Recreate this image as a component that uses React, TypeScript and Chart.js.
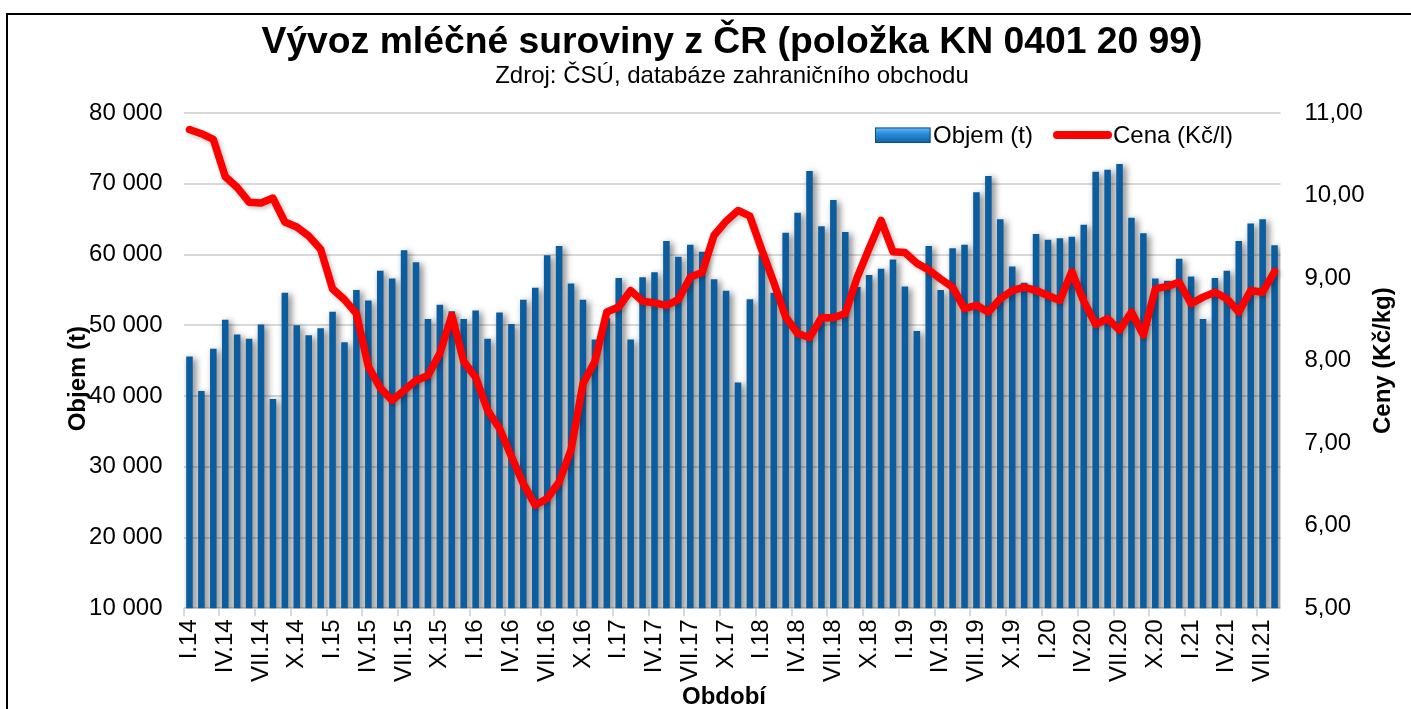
import React, { useEffect, useRef } from 'react';
import { Chart, registerables } from 'chart.js';

Chart.register(...registerables);

const FONT = '"Liberation Sans", Arial, Helvetica, sans-serif';

const TITLE = 'Vývoz mléčné suroviny z ČR (položka KN 0401 20 99)';
const SUBTITLE = 'Zdroj: ČSÚ, databáze zahraničního obchodu';
const Y_LEFT_TITLE = 'Objem (t)';
const Y_RIGHT_TITLE = 'Ceny (Kč/kg)';
const X_TITLE = 'Období';
const VOLUME_LABEL = 'Objem (t)';
const PRICE_LABEL = 'Cena (Kč/l)';

// Month labels: I.14 ... VIII.21
const ROMAN_MONTHS = ['I', 'II', 'III', 'IV', 'V', 'VI', 'VII', 'VIII', 'IX', 'X', 'XI', 'XII'];
const YEARS = ['14', '15', '16', '17', '18', '19', '20', '21'];
const MONTH_COUNT = 92;
const categories: string[] = [];
for (let i = 0; i < MONTH_COUNT; i++) {
  categories.push(`${ROMAN_MONTHS[i % 12]}.${YEARS[Math.floor(i / 12)]}`);
}

// Export volume (t)
const volume2014 = [45600, 40700, 46700, 50800, 48700, 48100, 50100, 39600, 54600, 50000, 48600, 49600];
const volume2015 = [51900, 47600, 55000, 53500, 57700, 56600, 60600, 58900, 50900, 52900, 52000, 50900];
const volume2016 = [52100, 48100, 51800, 50200, 53600, 55300, 59900, 61200, 55900, 53600, 48000, 51000];
const volume2017 = [56700, 48000, 56800, 57500, 61900, 59700, 61400, 60400, 56500, 54900, 41900, 53700];
const volume2018 = [60000, 54600, 63100, 65900, 71800, 64000, 67700, 63200, 55400, 57100, 58000, 59300];
const volume2019 = [55500, 49200, 61200, 55000, 60900, 61400, 68800, 71100, 65000, 58300, 56000, 62900];
const volume2020 = [62100, 62300, 62500, 64200, 71700, 72000, 72800, 65200, 63000, 56600, 56300, 59400];
const volume2021 = [56900, 50900, 56700, 57700, 61900, 64400, 65000, 61300];
const volume = [
  ...volume2014, ...volume2015, ...volume2016, ...volume2017,
  ...volume2018, ...volume2019, ...volume2020, ...volume2021,
];

// Price (Kč/l)
const price2014 = [10.8, 10.75, 10.68, 10.23, 10.1, 9.92, 9.91, 9.97, 9.68, 9.62, 9.51, 9.35];
const price2015 = [8.87, 8.74, 8.57, 7.93, 7.67, 7.52, 7.64, 7.76, 7.82, 8.09, 8.55, 7.99];
const price2016 = [7.8, 7.4, 7.18, 6.84, 6.51, 6.25, 6.33, 6.53, 6.92, 7.72, 7.99, 8.59];
const price2017 = [8.65, 8.85, 8.72, 8.7, 8.67, 8.74, 9.01, 9.07, 9.52, 9.69, 9.82, 9.75];
const price2018 = [9.34, 8.95, 8.53, 8.33, 8.28, 8.52, 8.52, 8.57, 9.01, 9.36, 9.7, 9.32];
const price2019 = [9.31, 9.18, 9.1, 8.99, 8.89, 8.63, 8.67, 8.59, 8.75, 8.85, 8.89, 8.85];
const price2020 = [8.79, 8.73, 9.08, 8.72, 8.44, 8.51, 8.37, 8.59, 8.31, 8.87, 8.9, 8.95];
const price2021 = [8.69, 8.77, 8.83, 8.75, 8.59, 8.85, 8.83, 9.08];
const price = [
  ...price2014, ...price2015, ...price2016, ...price2017,
  ...price2018, ...price2019, ...price2020, ...price2021,
];

const VOLUME_MIN = 10000;
const VOLUME_MAX = 80000;
const VOLUME_STEP = 10000;
const PRICE_MIN = 5;
const PRICE_MAX = 11;
const PRICE_STEP = 1;

const fmtThousands = (v: number) => String(Math.round(v)).replace(/\B(?=(\d{3})+(?!\d))/g, ' ');
const fmtPrice = (v: number) => Number(v).toFixed(2).replace('.', ',');

const decorPlugin = {
  id: 'decor',
  beforeDatasetDraw(chart: any, args: any) {
    const ctx = chart.ctx;
    ctx.save();
    if (args.meta.type === 'bar') {
      ctx.shadowColor = 'rgba(0,0,0,0.55)';
      ctx.shadowBlur = 7;
      ctx.shadowOffsetX = 3;
      ctx.shadowOffsetY = 2;
    } else {
      ctx.shadowColor = 'rgba(0,0,0,0.25)';
      ctx.shadowBlur = 4;
      ctx.shadowOffsetX = 2;
      ctx.shadowOffsetY = 2;
    }
  },
  afterDatasetDraw(chart: any) {
    chart.ctx.restore();
  },
  afterDraw(chart: any) {
    const { ctx, chartArea } = chart;
    const cy = (chartArea.top + chartArea.bottom) / 2;
    ctx.save();
    ctx.fillStyle = '#000';
    ctx.font = `bold 24px ${FONT}`;
    ctx.textAlign = 'center';
    ctx.textBaseline = 'middle';
    // left axis title
    ctx.save();
    ctx.translate(78, cy + 18);
    ctx.rotate(-Math.PI / 2);
    ctx.fillText(Y_LEFT_TITLE, 0, 0);
    ctx.restore();
    // right axis title
    ctx.save();
    ctx.translate(1383, cy);
    ctx.rotate(-Math.PI / 2);
    ctx.fillText(Y_RIGHT_TITLE, 0, 0);
    ctx.restore();
    // x axis title
    ctx.fillText(X_TITLE, 724, 697);

    // legend
    const lx = 875;
    const ly = 127.5;
    const lw = 55.5;
    const lh = 15.5;
    const g = ctx.createLinearGradient(0, ly, 0, ly + lh);
    g.addColorStop(0, '#6FC0F5');
    g.addColorStop(0.35, '#2F92DE');
    g.addColorStop(1, '#0F5FA3');
    ctx.fillStyle = g;
    ctx.fillRect(lx, ly, lw, lh);
    ctx.strokeStyle = '#0B4E87';
    ctx.lineWidth = 1;
    ctx.strokeRect(lx + 0.5, ly + 0.5, lw - 1, lh - 1);

    ctx.fillStyle = '#000';
    ctx.font = `24px ${FONT}`;
    ctx.textAlign = 'left';
    ctx.fillText(VOLUME_LABEL, 933, ly + lh / 2 + 1);

    ctx.strokeStyle = '#FF0000';
    ctx.lineWidth = 8;
    ctx.lineCap = 'round';
    ctx.beginPath();
    ctx.moveTo(1057, 135);
    ctx.lineTo(1108, 135);
    ctx.stroke();
    ctx.fillText(PRICE_LABEL, 1113, ly + lh / 2 + 1);
    ctx.restore();
  },
};

export default function App() {
  const ref = useRef<HTMLCanvasElement | null>(null);

  useEffect(() => {
    if (!ref.current) return;
    const chart = new Chart(ref.current, {
      type: 'bar',
      data: {
        labels: categories,
        datasets: [
          {
            type: 'line',
            label: PRICE_LABEL,
            data: price,
            yAxisID: 'yPrice',
            borderColor: '#FF0000',
            backgroundColor: '#FF0000',
            borderWidth: 7.5,
            pointRadius: 0,
            tension: 0,
            borderJoinStyle: 'round',
            borderCapStyle: 'round',
            fill: false,
            order: 0,
          } as any,
          {
            type: 'bar',
            label: VOLUME_LABEL,
            data: volume,
            yAxisID: 'yVol',
            backgroundColor: '#0B5D9F',
            barPercentage: 0.55,
            categoryPercentage: 1,
            order: 1,
          } as any,
        ],
      },
      options: {
        responsive: false,
        animation: false,
        layout: { padding: 0 },
        plugins: {
          legend: { display: false },
          tooltip: { enabled: false },
          title: {
            display: true,
            text: TITLE,
            fullSize: false,
            color: '#000',
            font: { family: FONT, size: 37.3, weight: 'bold', lineHeight: 1.2 },
            padding: { top: 20, bottom: -3 },
          },
          subtitle: {
            display: true,
            text: SUBTITLE,
            fullSize: false,
            color: '#000',
            font: { family: FONT, size: 24, lineHeight: 1.2 },
            padding: { top: 0, bottom: 22.5 },
          },
        },
        scales: {
          x: {
            type: 'category',
            offset: true,
            grid: {
              offset: true,
              drawOnChartArea: false,
              drawTicks: true,
              tickLength: 8,
              lineWidth: 2,
              color: (c: any) => (c.index % 3 === 0 ? '#d9d9d9' : 'rgba(0,0,0,0)'),
            },
            border: { display: false },
            ticks: {
              autoSkip: false,
              maxRotation: 90,
              minRotation: 90,
              padding: 3,
              color: '#000',
              font: { family: FONT, size: 24 },
              callback: (_v: any, i: number) => (i % 3 === 0 ? categories[i] : ''),
            },
            afterFit: (s: any) => {
              s.height = 709 - 608.3;
            },
          },
          yVol: {
            type: 'linear',
            position: 'left',
            min: VOLUME_MIN,
            max: VOLUME_MAX,
            ticks: {
              stepSize: VOLUME_STEP,
              padding: 21,
              color: '#000',
              font: { family: FONT, size: 24 },
              callback: (v: any) => fmtThousands(Number(v)),
            },
            grid: { color: '#d9d9d9', lineWidth: 2, drawTicks: false },
            border: { display: false },
            afterFit: (s: any) => {
              s.width = 183.5;
            },
          },
          yPrice: {
            type: 'linear',
            position: 'right',
            min: PRICE_MIN,
            max: PRICE_MAX,
            ticks: {
              stepSize: PRICE_STEP,
              padding: 24,
              color: '#000',
              font: { family: FONT, size: 24 },
              callback: (v: any) => fmtPrice(Number(v)),
            },
            grid: { drawOnChartArea: false, drawTicks: false },
            border: { display: false },
            afterFit: (s: any) => {
              s.width = 130.5;
            },
          },
        },
      } as any,
      plugins: [decorPlugin as any],
    });
    return () => chart.destroy();
  }, []);

  return (
    <div
      style={{
        position: 'fixed',
        left: 0,
        top: 0,
        width: 1411,
        height: 709,
        overflow: 'hidden',
        background: '#fff',
      }}
    >
      <div
        style={{
          position: 'absolute',
          left: 6,
          top: 13,
          width: 2000,
          height: 2000,
          border: '2px solid #000',
          boxSizing: 'border-box',
        }}
      />
      <canvas
        ref={ref}
        width={1411}
        height={709}
        style={{ position: 'absolute', left: 0, top: 0, width: 1411, height: 709 }}
      />
    </div>
  );
}
